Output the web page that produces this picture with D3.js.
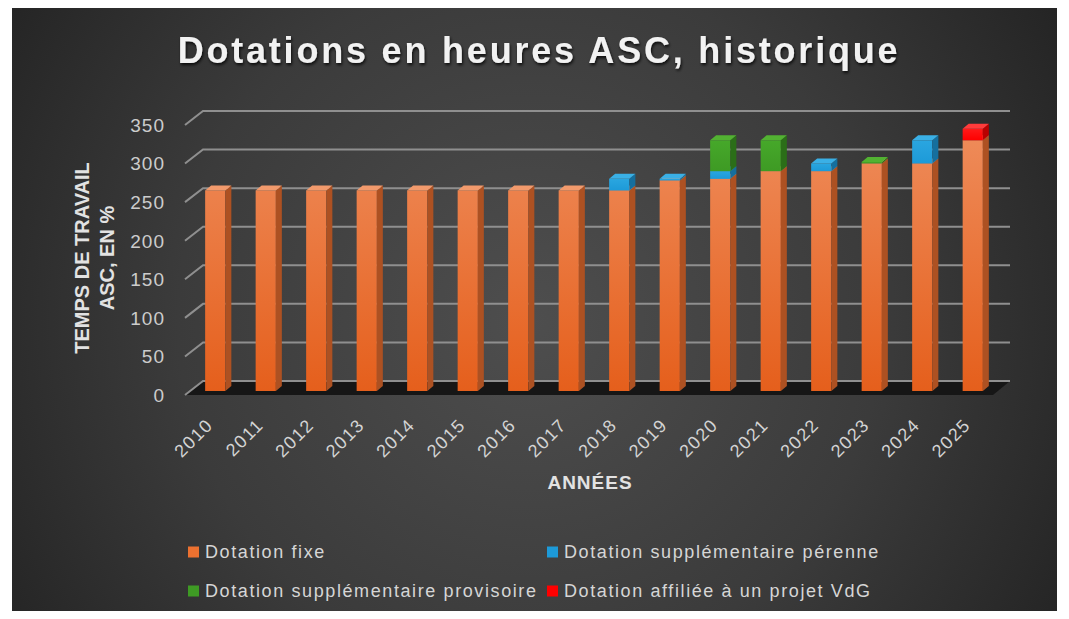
<!DOCTYPE html>
<html>
<head>
<meta charset="utf-8">
<script src="https://cdn.jsdelivr.net/npm/d3@7"></script>
<style>
    html, body { margin: 0; padding: 0; background: #ffffff; }
    svg { display: block; }
</style>
</head>
<body>
<svg id="chart" width="1069" height="619"></svg>
<script>
    var years = ["2010", "2011", "2012", "2013", "2014", "2015", "2016", "2017",
        "2018", "2019", "2020", "2021", "2022", "2023", "2024", "2025"];
    var dotationFixe = [260, 260, 260, 260, 260, 260, 260, 260, 260, 273, 275, 285, 285, 295, 295, 325];
    var dotationPerenne = [0, 0, 0, 0, 0, 0, 0, 0, 15, 2, 10, 0, 10, 0, 30, 0];
    var dotationProvisoire = [0, 0, 0, 0, 0, 0, 0, 0, 0, 0, 40, 40, 0, 2, 0, 0];
    var dotationVdG = [0, 0, 0, 0, 0, 0, 0, 0, 0, 0, 0, 0, 0, 0, 0, 15];
    var yTicks = [0, 50, 100, 150, 200, 250, 300, 350];

    var series = [
        { name: "Dotation fixe", values: dotationFixe, front: "#ec7130", light: "#f08a58", side: "#ad5122", top: "#f29a6c" },
        { name: "Dotation supplémentaire pérenne", values: dotationPerenne, front: "#1d9ad8", light: "#2aa6e0", side: "#156f9e", top: "#3ab0e6" },
        { name: "Dotation supplémentaire provisoire", values: dotationProvisoire, front: "#3e9a24", light: "#46a82a", side: "#2b6e18", top: "#52b232" },
        { name: "Dotation affiliée à un projet VdG", values: dotationVdG, front: "#ff0000", light: "#ff1a1a", side: "#b80000", top: "#ff3b3b" }
    ];
    // legend order : fixe, perenne / provisoire, vdg
    var legendCols = [0, 1, 0, 1];
    var legendRows = [0, 0, 1, 1];

    var svg = d3.select("#chart");
    var defs = svg.append("defs");

    var bg = defs.append("radialGradient").attr("id", "bg")
        .attr("gradientUnits", "userSpaceOnUse")
        .attr("cx", 530).attr("cy", 320).attr("r", 640);
    bg.append("stop").attr("offset", "0").attr("stop-color", "#4e4e4e");
    bg.append("stop").attr("offset", "0.55").attr("stop-color", "#3b3b3b");
    bg.append("stop").attr("offset", "1").attr("stop-color", "#222222");

    series.forEach(function (s, i) {
        var lg = defs.append("linearGradient").attr("id", "front" + i)
            .attr("x1", 0).attr("y1", 0).attr("x2", 0).attr("y2", 1);
        lg.append("stop").attr("offset", "0").attr("stop-color", s.light);
        lg.append("stop").attr("offset", "1").attr("stop-color", s.front);
    });
    var fixeGrad = defs.select("#front0");
    fixeGrad.attr("gradientUnits", "userSpaceOnUse").attr("y1", 140).attr("y2", 391);
    fixeGrad.selectAll("stop").remove();
    fixeGrad.append("stop").attr("offset", "0").attr("stop-color", "#ee8a58");
    fixeGrad.append("stop").attr("offset", "1").attr("stop-color", "#e55f1c");

    var shadow = defs.append("filter").attr("id", "shadow")
        .attr("x", "-5%").attr("y", "-20%").attr("width", "110%").attr("height", "150%");
    shadow.append("feDropShadow").attr("dx", 1).attr("dy", 2).attr("stdDeviation", 1.5)
        .attr("flood-color", "#000").attr("flood-opacity", 0.8);

    svg.append("rect")
        .attr("x", 12).attr("y", 8)
        .attr("width", 1045).attr("height", 603)
        .attr("fill", "url(#bg)");

    // scales
    var x = d3.scaleBand()
        .domain(years)
        .range([190, 998])
        .paddingInner(0.6)
        .paddingOuter(0.3);
    var y = d3.scaleLinear()
        .domain([0, 350])
        .range([391, 121]);

    var backDx = 18, backDy = -10, frontDy = 4, frontX = 185, backRight = 1010;
    var depthX = 6, depthY = -5;
    var font = "'Liberation Sans', Arial, sans-serif";

    // floor
    svg.append("path")
        .attr("d", "M" + frontX + "," + (y(0) + frontDy) +
            "L" + (frontX + backDx) + "," + (y(0) + backDy) +
            "L" + backRight + "," + (y(0) + backDy) +
            "L" + (backRight - 17) + "," + (y(0) + frontDy) + "Z")
        .attr("fill", "#161616");

    // gridlines on back wall with perspective stub
    var grid = svg.append("g");
    grid.selectAll("path")
        .data(yTicks)
        .enter().append("path")
        .attr("d", function (d) {
            return "M" + frontX + "," + (y(d) + frontDy) +
                "L" + (frontX + backDx) + "," + (y(d) + backDy) +
                "L" + backRight + "," + (y(d) + backDy);
        })
        .attr("fill", "none")
        .attr("stroke", "#8f8f8f")
        .attr("stroke-width", 2);

    // y tick labels
    svg.append("g").selectAll("text")
        .data(yTicks)
        .enter().append("text")
        .attr("x", 165)
        .attr("y", function (d) { return y(d) + frontDy; })
        .attr("dy", "0.36em")
        .attr("text-anchor", "end")
        .attr("fill", "#cccccc")
        .style("font-family", font)
        .style("font-size", "19px")
        .style("letter-spacing", "1px")
        .text(function (d) { return d; });

    // stacked 3d bars
    var bars = svg.append("g");
    var bw = x.bandwidth();
    years.forEach(function (year, i) {
        var base = 0;
        var g = bars.append("g");
        series.forEach(function (s, si) {
            var v = s.values[i];
            if (v <= 0) return;
            var x0 = x(year);
            var yb = y(base), yt = y(base + v);
            g.append("rect")
                .attr("x", x0).attr("y", yt)
                .attr("width", bw).attr("height", yb - yt)
                .attr("fill", "url(#front" + si + ")");
            g.append("path")
                .attr("d", "M" + (x0 + bw) + "," + yt + "L" + (x0 + bw + depthX) + "," + (yt + depthY) +
                    "L" + (x0 + bw + depthX) + "," + (yb + depthY) + "L" + (x0 + bw) + "," + yb + "Z")
                .attr("fill", s.side);
            g.append("path")
                .attr("d", "M" + x0 + "," + yt + "L" + (x0 + depthX) + "," + (yt + depthY) +
                    "L" + (x0 + bw + depthX) + "," + (yt + depthY) + "L" + (x0 + bw) + "," + yt + "Z")
                .attr("fill", s.top);
            base += v;
        });
    });

    // x labels
    svg.append("g").selectAll("text")
        .data(years)
        .enter().append("text")
        .attr("transform", function (d) {
            return "translate(" + (x(d) + bw / 2 - 1) + ",426) rotate(-45)";
        })
        .attr("text-anchor", "end")
        .attr("fill", "#d4d4d4")
        .style("font-family", font)
        .style("font-size", "18px")
        .style("letter-spacing", "1.5px")
        .text(function (d) { return d; });

    // axis titles
    svg.append("text")
        .attr("x", 590).attr("y", 489)
        .attr("text-anchor", "middle")
        .attr("fill", "#e2e2e2")
        .style("font-family", font)
        .style("font-size", "19px")
        .style("font-weight", "bold")
        .style("letter-spacing", "1px")
        .text("ANNÉES");

    var yTitle = svg.append("text")
        .attr("transform", "translate(0,258) rotate(-90)")
        .attr("text-anchor", "middle")
        .attr("fill", "#e2e2e2")
        .style("font-family", font)
        .style("font-size", "20px")
        .style("font-weight", "bold");
    yTitle.append("tspan").attr("x", 0).attr("y", 89).text("TEMPS DE TRAVAIL");
    yTitle.append("tspan").attr("x", 0).attr("y", 114).text("ASC, EN %");

    // title
    svg.append("text")
        .attr("x", 539).attr("y", 63)
        .attr("text-anchor", "middle")
        .attr("fill", "#f2f2f2")
        .attr("filter", "url(#shadow)")
        .style("font-family", font)
        .style("font-size", "36px")
        .style("font-weight", "bold")
        .style("letter-spacing", "2.8px")
        .text("Dotations en heures ASC, historique");

    // legend
    var legend = svg.append("g").selectAll("g")
        .data(series)
        .enter().append("g")
        .attr("transform", function (d, i) {
            return "translate(" + (188 + legendCols[i] * 359) + "," + (552 + legendRows[i] * 39) + ")";
        });
    legend.append("rect")
        .attr("x", 0).attr("y", -5.5)
        .attr("width", 11).attr("height", 11)
        .attr("fill", function (d) { return d.front; });
    legend.append("text")
        .attr("x", 17).attr("y", 0)
        .attr("dy", "0.36em")
        .attr("fill", "#d6d6d6")
        .style("font-family", font)
        .style("font-size", "18px")
        .style("letter-spacing", "1.6px")
        .text(function (d) { return d.name; });
</script>
</body>
</html>
